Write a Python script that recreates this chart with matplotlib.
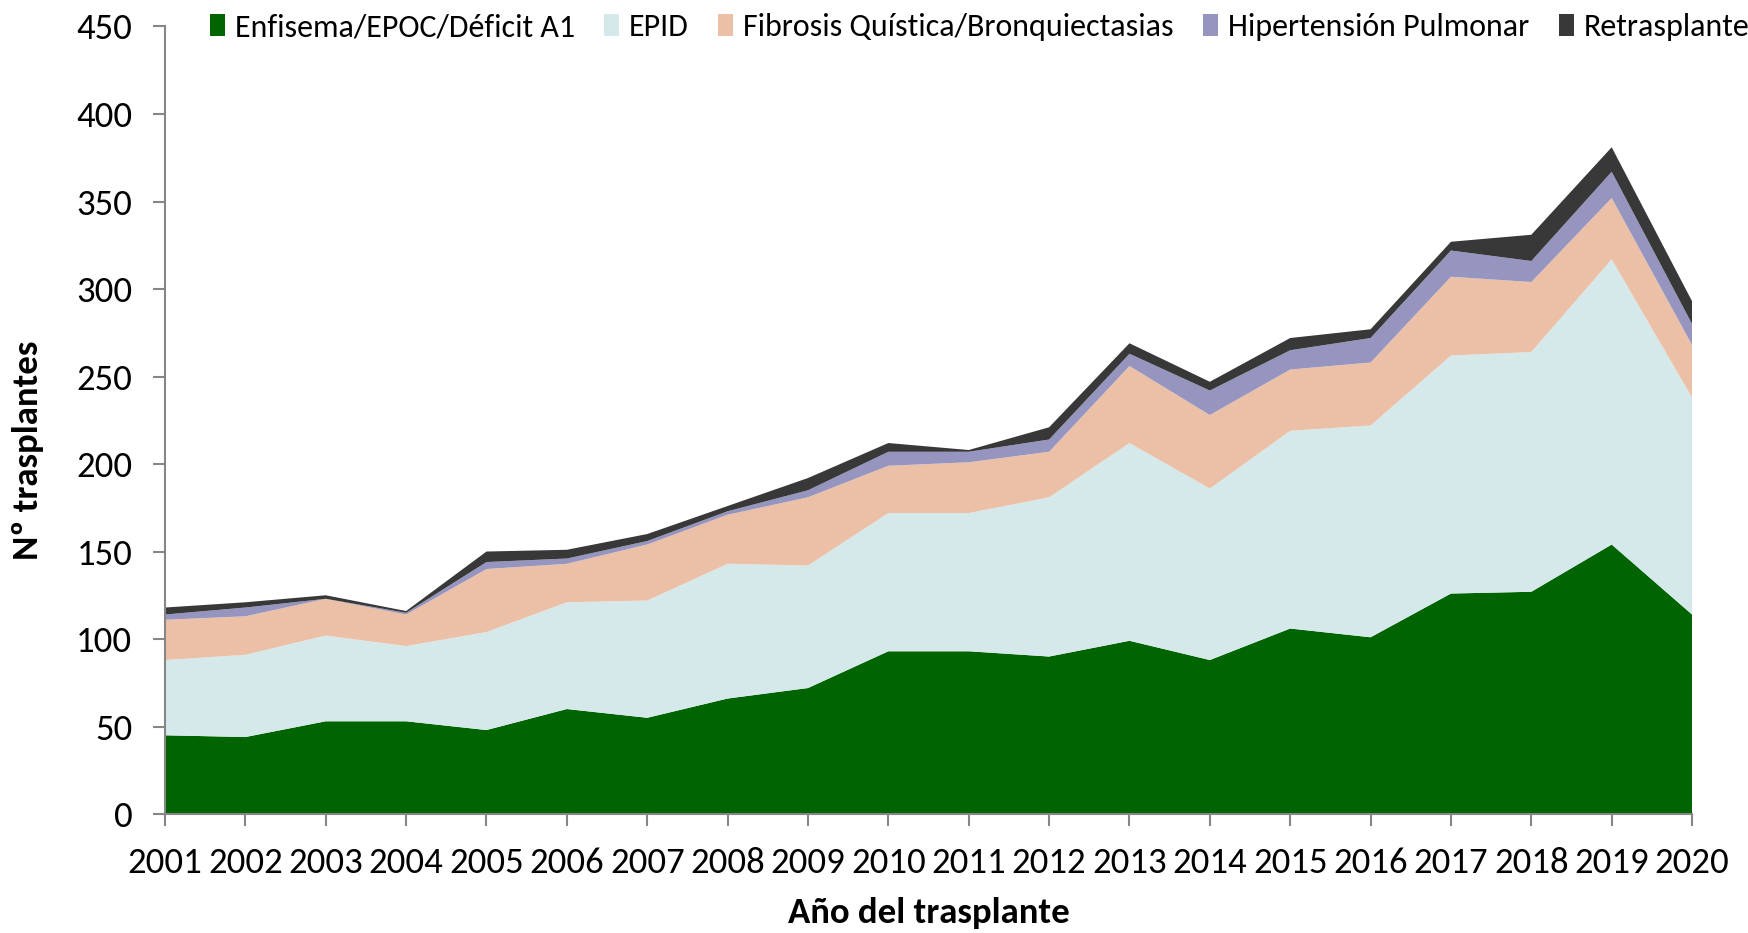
import numpy as np
import matplotlib
matplotlib.use('Agg')
import matplotlib.pyplot as plt

#%% data

years = list(range(2001, 2021))

enfisema = [45, 44, 53, 53, 48, 60, 55, 66, 72, 93, 93, 90, 99, 88, 106, 101, 126, 127, 154, 114]
epid = [43, 47, 49, 43, 56, 61, 67, 77, 70, 79, 79, 91, 113, 98, 113, 121, 136, 137, 163, 124]
fibrosis = [23, 22, 21, 18, 36, 22, 32, 28, 39, 27, 29, 26, 44, 42, 35, 36, 45, 40, 35, 30]
hipertension = [3, 5, 0, 1, 4, 3, 2, 2, 4, 8, 6, 7, 7, 14, 11, 14, 15, 12, 15, 12]
retrasplante = [4, 3, 2, 1, 6, 5, 4, 3, 7, 5, 1, 7, 6, 5, 7, 5, 5, 15, 14, 13]

labels = ['Enfisema/EPOC/Déficit A1', 'EPID', 'Fibrosis Quística/Bronquiectasias',
          'Hipertensión Pulmonar', 'Retrasplante']
colors = ['#006400', '#d5e8ea', '#ecc0a6', '#9595bf', '#383838']

#%% plot

plt.rcParams['font.family'] = ['Carlito', 'DejaVu Sans']

fig = plt.figure(figsize=(17.48, 9.33), dpi=100)
ax = fig.add_axes([0.0944, 0.1275, 0.8736, 0.8441])

ax.stackplot(years, enfisema, epid, fibrosis, hipertension, retrasplante,
             colors=colors, labels=labels, linewidth=0)

ax.set_xlim(2001, 2020)
ax.set_ylim(0, 450)
ax.set_xticks(years)
ax.set_yticks(np.arange(0, 451, 50))
ax.tick_params(axis='both', labelsize=26.5, length=8.5, width=1.5, color='#868686', pad=15)

for s in ['top', 'right']:
    ax.spines[s].set_visible(False)
for s in ['left', 'bottom']:
    ax.spines[s].set_color('#868686')
    ax.spines[s].set_linewidth(1.5)

ax.set_xlabel('Año del trasplante', fontsize=26.5, fontweight='bold')
ax.set_ylabel('Nº trasplantes', fontsize=26.5, fontweight='bold')
ax.xaxis.set_label_coords(0.5, -0.105)
ax.yaxis.set_label_coords(-0.079, 0.462)

fig.legend(loc='center left', bbox_to_anchor=(0.12, 0.971), ncol=5, frameon=False,
           fontsize=23, handlelength=0.47, handleheight=0.68, handletextpad=0.31,
           columnspacing=0.92, borderaxespad=0, borderpad=0)

plt.savefig('out.png', dpi=100)
